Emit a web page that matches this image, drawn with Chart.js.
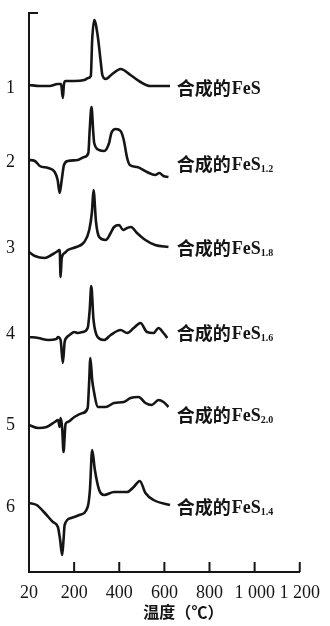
<!DOCTYPE html>
<html>
<head>
<meta charset="utf-8">
<script src="https://cdn.jsdelivr.net/npm/chart.js@4.4.1/dist/chart.umd.min.js"></script>
<style>
  html, body { margin: 0; padding: 0; background: #fff; }
  #wrap { width: 330px; height: 626px; }
</style>
</head>
<body>
<div id="wrap"><canvas id="dta"></canvas></div>
<script>
// curve numbers on the left and sample names on the right
const curveNums = ['6', '5', '4', '3', '2', '1'];
const curveNumV = [65, 147, 238, 324, 410, 484];
const sampleNames = ['合成的FeS', '合成的FeS', '合成的FeS', '合成的FeS', '合成的FeS', '合成的FeS'];
const sampleSubs = ['', '1.2', '1.8', '1.6', '2.0', '1.4'];
const sampleLabelV = [484, 408, 324, 239, 157, 65];
const xTickLabels = ['20', '200', '400', '600', '800', '1 000', '1 200'];

// temperature (°C) and signal (arbitrary units, curves stacked)
const curve1T = [0, 48, 92, 127, 142, 150, 155, 162, 201, 245, 263, 274, 280, 289, 304, 318, 325, 340, 369, 406, 450, 494, 537, 625];
const curve1V = [487, 486, 486, 488, 488, 474, 488, 491, 491, 492, 494, 496, 532, 552, 537, 510, 497, 493, 498, 503, 497, 490, 486, 486];

const curve2T = [0, 26, 48, 85, 114, 127, 136, 145, 155, 172, 216, 245, 263, 269, 277, 285, 289, 311, 333, 355, 365, 384, 406, 420, 435, 447, 479, 523, 559, 578, 596, 618];
const curve2V = [412, 411, 406, 404, 400, 392, 379, 392, 407, 411, 412, 415, 419, 442, 465, 439, 429, 422, 421, 429, 439, 443, 441, 432, 414, 407, 405, 400, 397, 399, 396, 395];

const curve3T = [0, 26, 70, 99, 121, 136, 140, 145, 158, 172, 209, 245, 267, 279, 286, 297, 311, 340, 362, 377, 399, 417, 435, 452, 479, 516, 559, 618];
const curve3V = [320, 316, 314, 317, 320, 322, 295, 314, 319, 322, 325, 330, 342, 360, 382, 350, 335, 332, 339, 345, 347, 342, 344, 345, 339, 332, 327, 325];

const curve4T = [0, 41, 85, 121, 128, 140, 150, 158, 165, 180, 201, 216, 238, 260, 269, 276, 286, 304, 333, 362, 406, 435, 464, 494, 523, 552, 574, 596, 613];
const curve4V = [235, 234, 232, 233, 235, 232, 209, 230, 234, 237, 240, 239, 240, 244, 262, 286, 252, 235, 232, 237, 242, 239, 244, 249, 240, 239, 244, 239, 234];

const curve5T = [0, 41, 78, 114, 129, 136, 140, 147, 153, 162, 172, 201, 238, 260, 266, 272, 280, 289, 304, 340, 377, 420, 450, 486, 516, 544, 574, 596, 618];
const curve5V = [147, 144, 145, 150, 152, 145, 154, 144, 120, 148, 150, 155, 159, 164, 187, 214, 192, 179, 165, 165, 169, 170, 174, 175, 169, 167, 172, 170, 165];

const curve6T = [0, 34, 70, 106, 128, 138, 147, 153, 158, 187, 223, 260, 270, 280, 292, 311, 333, 377, 435, 464, 491, 516, 552, 625];
const curve6V = [69, 67, 59, 50, 45, 32, 17, 32, 47, 54, 57, 65, 82, 122, 102, 82, 77, 80, 80, 85, 91, 79, 72, 67];

const curves = [
  [curve1T, curve1V], [curve2T, curve2V], [curve3T, curve3V],
  [curve4T, curve4V], [curve5T, curve5V], [curve6T, curve6V]
];

const ink = '#151515';
const serif = "'Liberation Serif', 'DejaVu Serif', serif";
const cjk = "'Noto Sans CJK SC', sans-serif";

// inward x ticks, the little bracket at the top, curve names and axis title
const decorations = {
  id: 'decorations',
  afterDraw(chart) {
    const { ctx, chartArea, scales: { x, y } } = chart;
    ctx.save();
    ctx.strokeStyle = ink;
    ctx.lineWidth = 2;
    x.ticks.forEach(t => {
      if (t.value === 0) return;
      const px = x.getPixelForValue(t.value);
      ctx.beginPath();
      ctx.moveTo(px, chartArea.bottom);
      ctx.lineTo(px, chartArea.bottom - 10);
      ctx.stroke();
    });
    ctx.beginPath();
    ctx.moveTo(chartArea.left, chartArea.top);
    ctx.lineTo(chartArea.left + 9, chartArea.top);
    ctx.stroke();

    ctx.fillStyle = ink;
    ctx.textBaseline = 'middle';
    ctx.textAlign = 'left';
    sampleNames.forEach((name, i) => {
      let px = x.getPixelForValue(655);
      const py = y.getPixelForValue(sampleLabelV[i]);
      const han = name.replace('FeS', '');
      ctx.font = 'bold 18px ' + cjk;
      ctx.fillText(han, px, py);
      px += ctx.measureText(han).width + 1;
      ctx.font = 'bold 18px ' + serif;
      ctx.fillText('FeS', px, py + 1);
      px += ctx.measureText('FeS').width;
      if (sampleSubs[i]) {
        ctx.font = 'bold 10px ' + serif;
        ctx.fillText(sampleSubs[i], px, py + 5);
      }
    });

    ctx.font = 'bold 16px ' + cjk;
    ctx.textAlign = 'center';
    ctx.fillText('温度（℃）', (x.left + x.right) / 2 + 19, chartArea.bottom + 40);
    ctx.restore();
  }
};

new Chart(document.getElementById('dta'), {
  type: 'line',
  data: {
    datasets: curves.map(([t, v], i) => ({
      label: 'curve ' + (i + 1),
      data: t.map((tt, k) => ({ x: tt, y: v[k] })),
      borderColor: ink,
      borderWidth: 2.6,
      pointRadius: 0,
      cubicInterpolationMode: 'monotone',
      fill: false
    }))
  },
  options: {
    responsive: true,
    maintainAspectRatio: false,
    animation: false,
    devicePixelRatio: 1,
    layout: { padding: { top: 13, right: 27, left: 0, bottom: 0 } },
    plugins: { legend: { display: false }, tooltip: { enabled: false } },
    scales: {
      x: {
        type: 'linear',
        min: 0,
        max: 1200,
        grid: { display: false, drawTicks: false },
        border: { display: true, color: ink, width: 2 },
        ticks: {
          stepSize: 200,
          autoSkip: false,
          maxRotation: 0,
          padding: 10,
          color: ink,
          font: { family: serif, size: 18 },
          callback: (v, i) => xTickLabels[i]
        },
        afterFit: s => { s.height = 54; }
      },
      y: {
        min: 0,
        max: 559,
        // hidden tick marks only push the curve numbers away from the axis
        grid: { display: false, drawTicks: true, tickLength: 14 },
        border: { display: true, color: ink, width: 2 },
        afterBuildTicks: s => { s.ticks = curveNumV.map(v => ({ value: v })); },
        ticks: {
          padding: 0,
          color: ink,
          font: { family: serif, size: 18 },
          callback: (v, i) => curveNums[i]
        },
        afterFit: s => { s.width = 29; }
      }
    }
  },
  plugins: [decorations]
});
</script>
</body>
</html>
